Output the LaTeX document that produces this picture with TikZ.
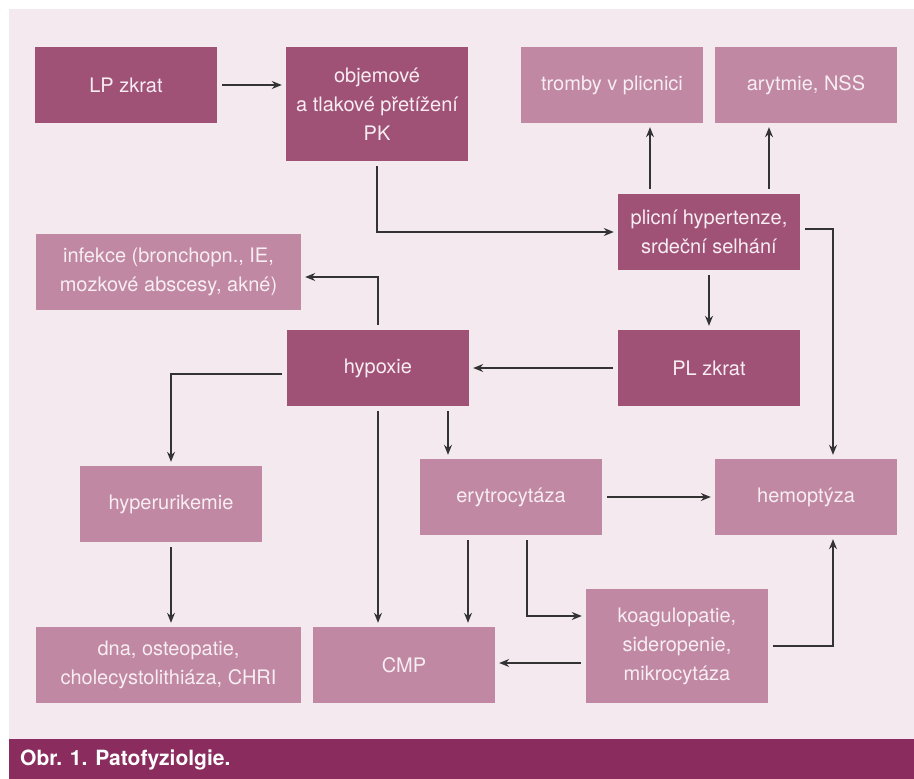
\documentclass[tikz,border=0pt]{standalone}
\usepackage{fontspec}
\setmainfont{TeX Gyre Heros}
\usepackage{tikz}
\usetikzlibrary{arrows.meta}
\definecolor{panel}{HTML}{F4E9EE}
\definecolor{boxdark}{HTML}{A05276}
\definecolor{boxlight}{HTML}{C088A3}
\definecolor{capbar}{HTML}{8A2C5E}
\definecolor{boxtext}{HTML}{F7EDF2}
\definecolor{linkcol}{HTML}{333333}

\begin{document}
\begin{tikzpicture}[x=1pt,y=-1pt,
	box/.style={inner sep=0pt, minimum width=182pt, minimum height=76pt, align=center, text=boxtext, font=\fontsize{20}{29}\selectfont},
	darkbox/.style={box, fill=boxdark},
	lightbox/.style={box, fill=boxlight},
	link/.style={draw=linkcol, line width=1.2pt, -{Stealth[length=10pt,width=8pt]}, shorten <=5pt, shorten >=4pt}]
	\fill[white] (0,0) rectangle (914,779);
	\fill[panel] (9,9) rectangle (914,739);
	\fill[capbar] (9,739) rectangle (914,779);
	\node[anchor=west, inner sep=0pt, text=white, font=\bfseries\fontsize{21}{25}\selectfont] (cap) at (20,760) {Obr. 1. Patofyziolgie.};

	\node[darkbox] (lp) at (126,85) {LP zkrat};
	\node[darkbox, minimum height=114pt] (obj) at (377,104) {objemové\\a tlakové přetížení\\PK};
	\node[lightbox] (tromby) at (612,85) {tromby v plicnici};
	\node[lightbox] (aryt) at (806,85) {arytmie, NSS};
	\node[darkbox] (plic) at (709,232) {plicní hypertenze,\\srdeční selhání};
	\node[lightbox, minimum width=265pt] (inf) at (168.5,272) {infekce (bronchopn., IE,\\mozkové abscesy, akné)};
	\node[darkbox] (hyp) at (378,368) {hypoxie};
	\node[darkbox] (pl) at (709,368) {PL zkrat};
	\node[lightbox] (hyperu) at (171,504) {hyperurikemie};
	\node[lightbox] (ery) at (511,497) {erytrocytáza};
	\node[lightbox] (hemo) at (806,497) {hemoptýza};
	\node[lightbox, minimum width=265pt] (dna) at (168.5,665) {dna, osteopatie,\\cholecystolithiáza, CHRI};
	\node[lightbox] (cmp) at (404,665) {CMP};
	\node[lightbox, minimum height=114pt] (koag) at (677,646) {koagulopatie,\\sideropenie,\\mikrocytáza};

	\path[every edge/.style={link}]
	(lp.east) edge (lp.east -| obj.west)
	(plic) edge (pl)
	(pl) edge (hyp)
	(ery) edge (hemo)
	([xshift=-59pt]plic.north) edge ([xshift=-59pt]plic.north |- tromby.south)
	([xshift=60pt]plic.north) edge ([xshift=60pt]plic.north |- aryt.south)
	(hyperu.south) edge (hyperu.south |- dna.north)
	(hyp.south) edge (hyp.south |- cmp.north)
	([xshift=70pt]hyp.south) edge ([xshift=70pt]hyp.south |- ery.north)
	([xshift=-43pt]ery.south) edge ([xshift=-43pt]ery.south |- cmp.north)
	([yshift=-17pt]koag.west) edge ([yshift=-17pt]koag.west -| cmp.east)
	;
	\draw[link] (obj.south) |- (plic.west);
	\draw[link] ([yshift=3pt]plic.east) -| ([xshift=27pt]hemo.north);
	\draw[link] (hyp.north) |- ([yshift=-5pt]inf.east);
	\draw[link] ([yshift=-6pt]hyp.west) -| (hyperu.north);
	\draw[link] ([xshift=16pt]ery.south) |- ([yshift=30pt]koag.west);
	\draw[link] (koag.east) -| ([xshift=27pt]hemo.south);
\end{tikzpicture}
\end{document}
